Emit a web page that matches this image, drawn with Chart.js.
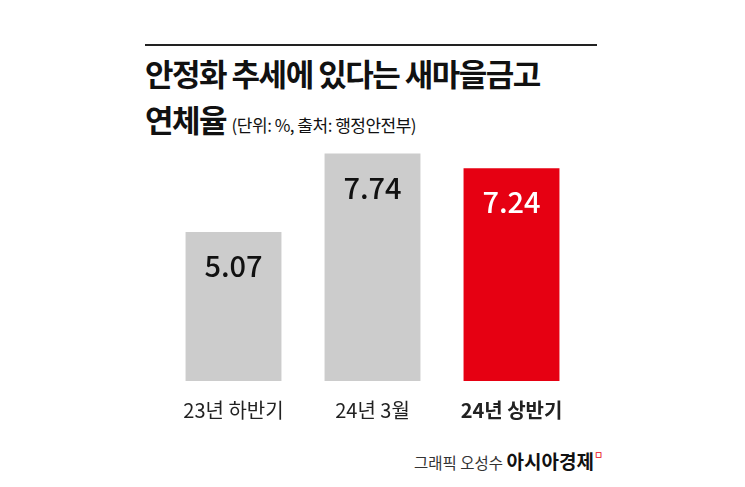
<!DOCTYPE html>
<html><head><meta charset="utf-8">
<script src="https://cdn.jsdelivr.net/npm/chart.js@4"></script>
<style>
body{margin:0;width:745px;height:487px;background:#fff;overflow:hidden;font-family:"Noto Sans CJK KR",sans-serif;position:relative}
#c{position:absolute;left:0;top:0}
.t{position:absolute;color:#111;white-space:nowrap}
</style></head><body>
<div style="position:absolute;left:145px;top:44px;width:452px;height:2px;background:#222"></div>
<div class="t" style="left:145px;top:50px;font-size:31px;font-weight:700;letter-spacing:-1.5px">안정화 추세에 있다는 새마을금고</div>
<div class="t" style="left:145px;top:96px;font-size:31px;font-weight:700;letter-spacing:-1.5px">연체율 <span style="font-size:17px;font-weight:400;letter-spacing:-0.5px">(단위: %, 출처: 행정안전부)</span></div>
<div class="t" style="left:414px;top:447px;font-size:15.5px;color:#333">그래픽 오성수 <b style="font-size:19px;color:#111">아시아경제</b><span style="color:#e60012;font-size:10px;vertical-align:top">ㅁ</span></div>
<canvas id="c" width="745" height="487"></canvas>
<script>
const categories=["23년 하반기","24년 3월","24년 상반기"];
const values=[5.07,7.74,7.24];
const colors=["#cccccc","#cccccc","#e60012"];
const labelColors=["#111","#111","#fff"];
const labelPlugin={id:"lbl",afterDatasetsDraw(ch){
 const ctx=ch.ctx;const meta=ch.getDatasetMeta(0);
 ctx.save();ctx.textAlign="center";ctx.textBaseline="middle";
 meta.data.forEach((b,i)=>{
  ctx.font="500 29px 'Noto Sans CJK KR'";ctx.fillStyle=labelColors[i];
  ctx.fillText(values[i].toFixed(2),b.x,b.y+34);
  ctx.font=(i===2?"700 ":"400 ")+"20px 'Noto Sans CJK KR'";ctx.fillStyle="#222";
  ctx.fillText(categories[i],b.x,410);
 });ctx.restore();}};
new Chart(document.getElementById("c"),{type:"bar",
 data:{labels:categories,datasets:[{data:values,backgroundColor:colors,barPercentage:0.69,categoryPercentage:1}]},
 options:{responsive:false,animation:false,layout:{padding:{left:164,right:164,top:140,bottom:106}},
  plugins:{legend:{display:false},tooltip:{enabled:false}},
  scales:{x:{display:false},y:{display:false,min:0,max:8.2}}},
 plugins:[labelPlugin]});
</script></body></html>
